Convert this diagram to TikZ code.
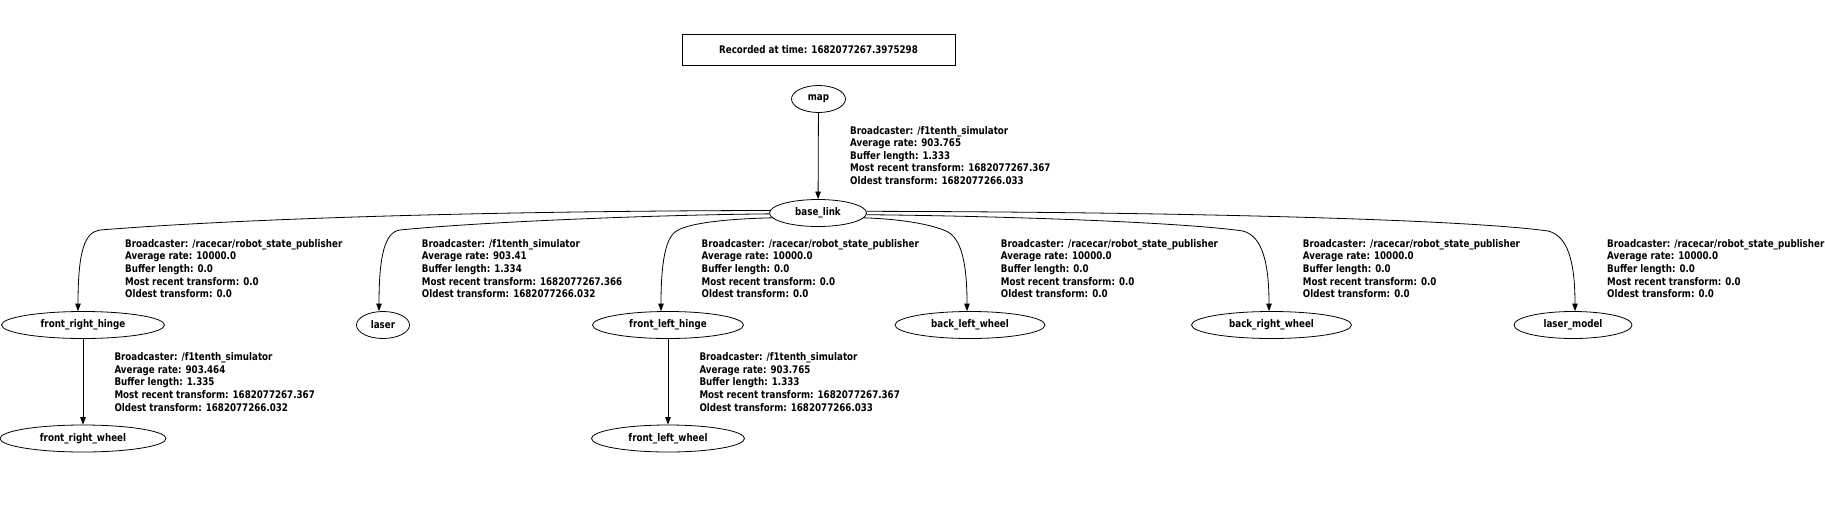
\documentclass[tikz,border=0pt]{standalone}
\usepackage{fontspec}
\setmainfont{DejaVu Sans}[FakeStretch=0.83]
\usetikzlibrary{arrows.meta,shapes.geometric}
\newcommand\tflabel[1]{\begin{tabular}[t]{@{}l@{}}#1\end{tabular}}
\begin{document}
\begin{tikzpicture}[x=1pt,y=-1pt,
  every node/.style={font=\fontsize{10.5}{12.6}\selectfont\bfseries},
  frame/.style={draw, ellipse, line width=0.8pt, minimum height=27pt, inner sep=0pt},
  recbox/.style={draw, rectangle, line width=0.8pt, minimum width=273pt, minimum height=31pt, inner sep=0pt},
  edge/.style={line width=0.8pt, -{Triangle[length=7.5pt,width=5.5pt]}},
  info/.style={anchor=base west, inner sep=0pt}]
\fill[white] (0,0) rectangle (1825,517);
\useasboundingbox (0,0) rectangle (1825,517);

\node[recbox] (rec) at (818.5,50) {Recorded at time: 1682077267.3975298};

\node[frame, minimum width=54pt] (map) at (818.5,99) {map};
\node[frame, minimum width=97pt] (bl) at (818,213) {base\_link};
\node[frame, minimum width=163pt] (frh) at (83,325) {front\_right\_hinge};
\node[frame, minimum width=53pt] (laser) at (383,325) {laser};
\node[frame, minimum width=151pt] (flh) at (668,325) {front\_left\_hinge};
\node[frame, minimum width=150pt] (blw) at (970,325) {back\_left\_wheel};
\node[frame, minimum width=160pt] (brw) at (1271.5,325) {back\_right\_wheel};
\node[frame, minimum width=118pt] (lm) at (1573,325) {laser\_model};
\node[frame, minimum width=166pt] (frw) at (83,438.5) {front\_right\_wheel};
\node[frame, minimum width=153pt] (flw) at (668,438.5) {front\_left\_wheel};

% edges
\draw[edge] (map) -- (bl);
\draw[edge] (frh) -- (frw);
\draw[edge] (flh) -- (flw);
\draw[edge] (bl.177) .. controls (500,211) and (250,218) .. (100,230)
  .. controls (85,232) and (78,250) .. ([xshift=-5pt]frh.north);
\draw[edge] (bl.181) .. controls (650,215) and (480,222) .. (400,230)
  .. controls (385,232) and (379,255) .. ([xshift=-4pt]laser.north);
\draw[edge] (bl.186) .. controls (720,219) and (685,224) .. (675,232)
  .. controls (665,240) and (661,265) .. ([xshift=-7pt]flh.north);
\draw[edge] (bl.354) .. controls (900,219) and (930,224) .. (946,231)
  .. controls (962,238) and (967,265) .. ([xshift=-3pt]blw.north);
\draw[edge] (bl.358) .. controls (1000,216) and (1180,222) .. (1243,231)
  .. controls (1262,236) and (1269,262) .. ([xshift=-2.5pt]brw.north);
\draw[edge] (bl.2) .. controls (1200,212) and (1470,220) .. (1548,231)
  .. controls (1568,236) and (1575,262) .. ([xshift=2pt]lm.north);

% edge labels
\node[info] (lmap) at (850,134) {\tflabel{Broadcaster: /f1tenth\_simulator\\Average rate: 903.765\\Buffer length: 1.333\\Most recent transform: 1682077267.367\\Oldest transform: 1682077266.033}};
\node[info] (lfrh) at (125,247.3) {\tflabel{Broadcaster: /racecar/robot\_state\_publisher\\Average rate: 10000.0\\Buffer length: 0.0\\Most recent transform: 0.0\\Oldest transform: 0.0}};
\node[info] (llaser) at (421.7,247.3) {\tflabel{Broadcaster: /f1tenth\_simulator\\Average rate: 903.41\\Buffer length: 1.334\\Most recent transform: 1682077267.366\\Oldest transform: 1682077266.032}};
\node[info] (lflh) at (701.5,247.3) {\tflabel{Broadcaster: /racecar/robot\_state\_publisher\\Average rate: 10000.0\\Buffer length: 0.0\\Most recent transform: 0.0\\Oldest transform: 0.0}};
\node[info] (lblw) at (1000.7,247.3) {\tflabel{Broadcaster: /racecar/robot\_state\_publisher\\Average rate: 10000.0\\Buffer length: 0.0\\Most recent transform: 0.0\\Oldest transform: 0.0}};
\node[info] (lbrw) at (1302.7,247.3) {\tflabel{Broadcaster: /racecar/robot\_state\_publisher\\Average rate: 10000.0\\Buffer length: 0.0\\Most recent transform: 0.0\\Oldest transform: 0.0}};
\node[info] (llm) at (1607,247.3) {\tflabel{Broadcaster: /racecar/robot\_state\_publisher\\Average rate: 10000.0\\Buffer length: 0.0\\Most recent transform: 0.0\\Oldest transform: 0.0}};
\node[info] (lfrw) at (114.3,360.7) {\tflabel{Broadcaster: /f1tenth\_simulator\\Average rate: 903.464\\Buffer length: 1.335\\Most recent transform: 1682077267.367\\Oldest transform: 1682077266.032}};
\node[info] (lflw) at (699.3,360.7) {\tflabel{Broadcaster: /f1tenth\_simulator\\Average rate: 903.765\\Buffer length: 1.333\\Most recent transform: 1682077267.367\\Oldest transform: 1682077266.033}};
\end{tikzpicture}
\end{document}
